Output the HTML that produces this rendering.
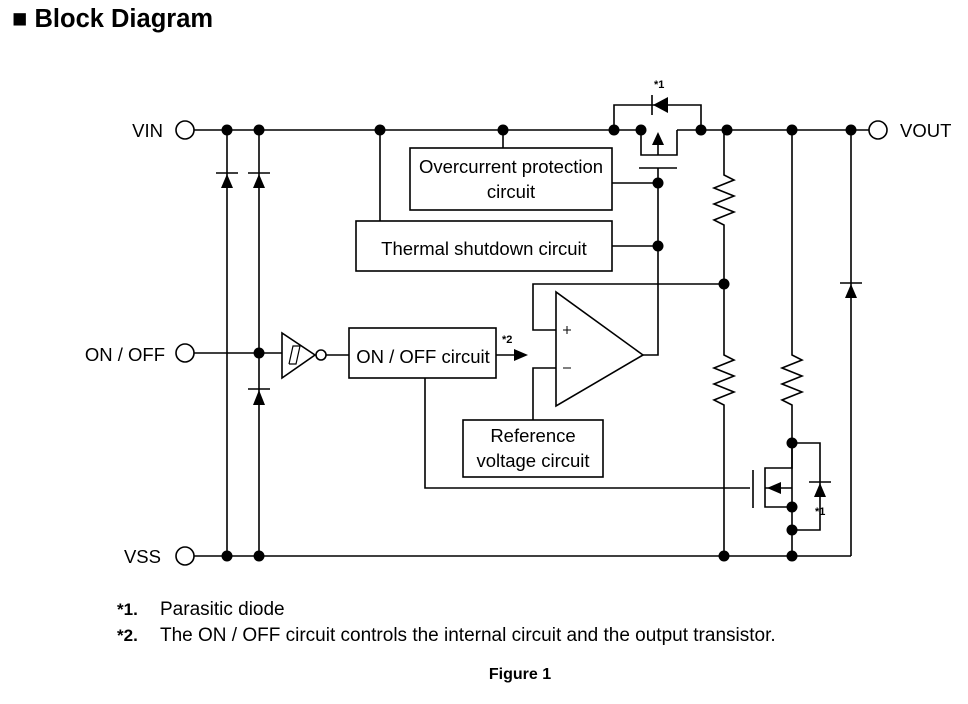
<!DOCTYPE html>
<html><head><style>
body{margin:0;background:#fff;width:968px;height:699px;overflow:hidden}
svg text{font-family:"Liberation Sans",Arial,sans-serif;fill:#000}
</style></head><body>
<svg width="968" height="699" xmlns="http://www.w3.org/2000/svg">
<text x="12" y="27" font-size="25.5" font-weight="bold">■ Block Diagram</text>
<g stroke="#000" stroke-width="1.6" fill="none">
<line x1="194" y1="130" x2="641" y2="130"/>
<line x1="677" y1="130" x2="869" y2="130"/>
<circle cx="185" cy="130" r="9" fill="#fff"/>
<circle cx="878" cy="130" r="9" fill="#fff"/>
<line x1="194" y1="556" x2="851" y2="556"/>
<circle cx="185" cy="556" r="9" fill="#fff"/>
<line x1="851" y1="556" x2="851" y2="130"/>
<line x1="227" y1="130" x2="227" y2="556"/>
<line x1="259" y1="130" x2="259" y2="556"/>
<line x1="216" y1="173" x2="238" y2="173"/>
<line x1="248" y1="173" x2="270" y2="173"/>
<line x1="248" y1="389" x2="270" y2="389"/>
<line x1="840" y1="283" x2="862" y2="283"/>
<circle cx="185" cy="353" r="9" fill="#fff"/>
<line x1="194" y1="353" x2="282" y2="353"/>
<polygon points="282,333 282,378 315,355" fill="#fff"/>
<polyline points="289,364 293,346 300,346 296,364 289,364" stroke-width="1.2"/>
<circle cx="321" cy="355" r="5" fill="#fff"/>
<line x1="326" y1="355" x2="349" y2="355"/>
<rect x="349" y="328" width="147" height="50"/>
<line x1="496" y1="355" x2="515" y2="355"/>
<polyline points="425,378 425,488 750,488"/>
<rect x="410" y="148" width="202" height="62"/>
<rect x="356" y="221" width="256" height="50"/>
<rect x="463" y="420" width="140" height="57"/>
<line x1="503" y1="130" x2="503" y2="148"/>
<line x1="380" y1="130" x2="380" y2="221"/>
<line x1="612" y1="183" x2="658" y2="183"/>
<line x1="612" y1="246" x2="658" y2="246"/>
<polyline points="614,130 614,105 701,105 701,130"/>
<line x1="652" y1="95" x2="652" y2="115"/>
<polyline points="641,130 641,155 677,155 677,130"/>
<line x1="658" y1="155" x2="658" y2="145"/>
<line x1="639" y1="168" x2="677" y2="168"/>
<polyline points="658,168 658,355 643,355"/>
<polygon points="556,292 556,406 643,355" fill="#fff"/>
<polyline points="724,284 533,284 533,330 556,330"/>
<polyline points="556,368 533,368 533,420"/>
<line x1="563" y1="330" x2="571" y2="330" stroke-width="1"/>
<line x1="567" y1="326" x2="567" y2="334" stroke-width="1"/>
<line x1="563" y1="368" x2="571" y2="368" stroke-width="1"/>
<polyline points="724,130 724,175 734,180 714,188 734,196 714,204 734,212 714,220 724,225 724,355 734,360 714,368 734,376 714,384 734,392 714,400 724,405 724,556"/>
<polyline points="792,130 792,355 802,360 782,368 802,376 782,384 802,392 782,400 792,405 792,556"/>
<polyline points="792,443 820,443 820,530 792,530"/>
<line x1="809" y1="482" x2="831" y2="482"/>
<polyline points="792,443 792,468 765,468 765,507 792,507"/>
<line x1="765" y1="488" x2="792" y2="488"/>
<line x1="753" y1="470" x2="753" y2="508"/>
</g>
<g fill="#000">
<polygon points="221,188 233,188 227,174"/>
<polygon points="253,188 265,188 259,174"/>
<polygon points="253,405 265,405 259,390"/>
<polygon points="845,298 857,298 851,284"/>
<polygon points="668,97 668,113 653,105"/>
<polygon points="652,145 664,145 658,132"/>
<polygon points="514,349 514,361 528,355"/>
<polygon points="814,497 826,497 820,483"/>
<polygon points="781,482 781,494 767,488"/>
<circle cx="227" cy="130" r="5.5"/><circle cx="259" cy="130" r="5.5"/>
<circle cx="380" cy="130" r="5.5"/><circle cx="503" cy="130" r="5.5"/>
<circle cx="614" cy="130" r="5.5"/><circle cx="641" cy="130" r="5.5"/>
<circle cx="701" cy="130" r="5.5"/><circle cx="727" cy="130" r="5.5"/>
<circle cx="792" cy="130" r="5.5"/><circle cx="851" cy="130" r="5.5"/>
<circle cx="658" cy="183" r="5.5"/><circle cx="658" cy="246" r="5.5"/>
<circle cx="724" cy="284" r="5.5"/><circle cx="259" cy="353" r="5.5"/>
<circle cx="792" cy="443" r="5.5"/><circle cx="792" cy="507" r="5.5"/>
<circle cx="792" cy="530" r="5.5"/>
<circle cx="227" cy="556" r="5.5"/><circle cx="259" cy="556" r="5.5"/>
<circle cx="724" cy="556" r="5.5"/><circle cx="792" cy="556" r="5.5"/>
</g>
<g font-size="18.5">
<text x="163" y="137" text-anchor="end">VIN</text>
<text x="900" y="137">VOUT</text>
<text x="165" y="361" text-anchor="end">ON / OFF</text>
<text x="161" y="563" text-anchor="end">VSS</text>
<text x="511" y="173" text-anchor="middle">Overcurrent protection</text>
<text x="511" y="198" text-anchor="middle">circuit</text>
<text x="484" y="255" text-anchor="middle">Thermal shutdown circuit</text>
<text x="423" y="363" text-anchor="middle">ON / OFF circuit</text>
<text x="533" y="442" text-anchor="middle">Reference</text>
<text x="533" y="467" text-anchor="middle">voltage circuit</text>
</g>
<g font-size="19">
<text x="160" y="615">Parasitic diode</text>
<text x="160" y="641">The ON / OFF circuit controls the internal circuit and the output transistor.</text>
</g>
<g font-size="17" font-weight="bold">
<text x="117" y="615">*1.</text>
<text x="117" y="641">*2.</text>
</g>
<text x="520" y="679" text-anchor="middle" font-size="16" font-weight="bold">Figure 1</text>
<g font-size="11" font-weight="bold">
<text x="654" y="88">*1</text>
<text x="502" y="343">*2</text>
<text x="815" y="515">*1</text>
</g>
</svg>
</body></html>
